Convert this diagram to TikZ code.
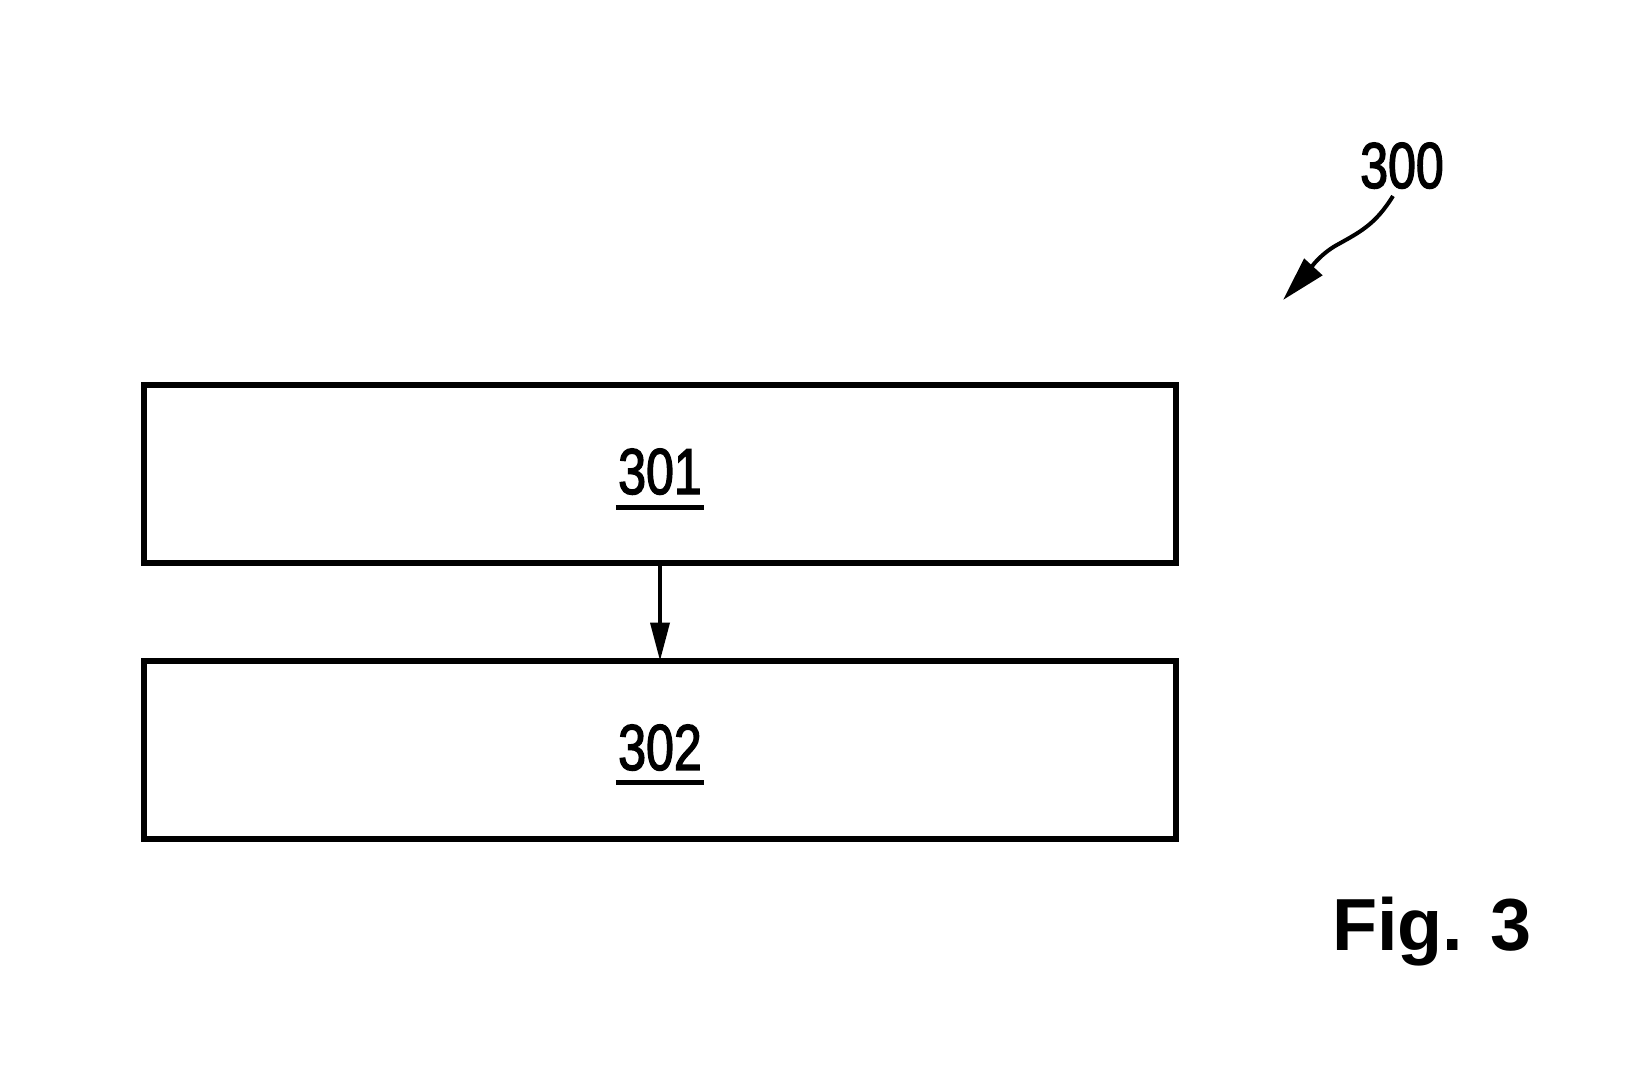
\documentclass[tikz,border=0pt]{standalone}
\usepackage{fontspec}
\setmainfont{Liberation Sans}
\newfontfamily\narrowfont[FakeStretch=0.77, FakeBold=2]{Liberation Sans}
\usetikzlibrary{positioning,arrows.meta}

\begin{document}
\begin{tikzpicture}[x=0.02cm, y=-0.02cm,
    stepbox/.style={rectangle, draw=black, line width=0.11cm, minimum width=20.64cm, minimum height=3.56cm, inner sep=0pt},
    refnum/.style={inner sep=0pt, anchor=base, font=\narrowfont\fontsize{37}{40}\selectfont},
    uline/.style={line width=0.1cm},
    leader/.style={line width=0.08cm, -{Triangle[length=0.9cm, width=0.48cm]}}]
    \useasboundingbox (0,0) rectangle (1629,1083);

    %Nodes
    \node (box_301) [stepbox] at (660,474) {};
    \node (box_302) [stepbox, below=1.85cm of box_301] {};

    % Reference numbers
    \node (label_301) [refnum] at ([yshift=-0.4cm]box_301.center) {301};
    \node (label_302) [refnum] at ([yshift=-0.4cm]box_302.center) {302};
    \node (label_300) [refnum] at (1402,188) {300};
    \node (fig_label) [inner sep=0pt, anchor=base, font=\bfseries\fontsize{42}{45}\selectfont] at (1432,950) {Fig. 3};
    \coordinate (tip_300) at (1283,300);

    %Lines
    \draw[uline] ([xshift=-0.04cm, yshift=-0.26cm]label_301.base west) -- ([xshift=0.04cm, yshift=-0.26cm]label_301.base east);
    \draw[uline] ([xshift=-0.04cm, yshift=-0.26cm]label_302.base west) -- ([xshift=0.04cm, yshift=-0.26cm]label_302.base east);
    \draw[line width=0.07cm, -{Triangle[length=0.76cm, width=0.38cm]}] (box_301.south) -- ([yshift=-0.05cm]box_302.north);
    \draw[leader] ([xshift=-0.18cm, yshift=-0.14cm]label_300.south) .. controls (1375,225) and (1360,232) .. (1335,246)
        .. controls (1315,258) and (1305,276) .. (tip_300);
\end{tikzpicture}
\end{document}
